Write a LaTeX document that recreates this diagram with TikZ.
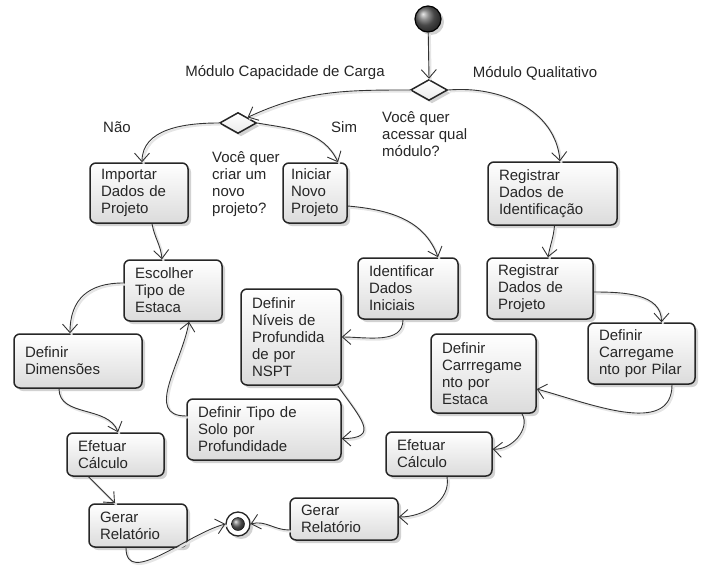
\documentclass[tikz,border=0pt]{standalone}
\usepackage{fontspec}
\setmainfont{Liberation Sans}
\usetikzlibrary{arrows.meta,shapes.geometric,shadows}
\newcommand{\flw}[3]{\path (#1) edge[#2] (#3); }

\begin{document}
\begin{tikzpicture}[x=1pt,y=1pt,->,>={Straight Barb[length=8.5pt,width=15pt,line width=0.9pt]},
  every node/.style={font=\fontsize{15}{17}\selectfont,text=black!85},
  every edge/.style={draw=black!80,line width=0.9pt,
    preaction={draw=black!10,line width=2.2pt,-,transform canvas={shift={(1.5pt,-1.5pt)}}}},
  act/.style={draw=black!85,line width=1.5pt,rounded corners=6pt,top color=white,bottom color=black!14,
    drop shadow={shadow xshift=3pt,shadow yshift=-3pt,fill=black!35,opacity=.5},
    align=left,text width=#1,inner xsep=11pt,inner ysep=4pt},
  dec/.style={diamond,draw=black!85,line width=1.5pt,top color=white,bottom color=black!8,inner sep=0pt,
    minimum width=37pt,minimum height=21pt,
    drop shadow={shadow xshift=3pt,shadow yshift=-3pt,fill=black!35,opacity=.5}},
  lbl/.style={inner sep=0pt,align=left}]
  \useasboundingbox (0,0) rectangle (709,-570);
  % start and decisions
  \node[circle,draw=black,line width=1.2pt,ball color=black!60,minimum size=26pt,inner sep=0pt,
    drop shadow={shadow xshift=3pt,shadow yshift=-3pt,fill=black!35,opacity=.5}] (start) at (428,-19) {};
  \node[dec] (modulo) at (429,-90) {};
  \node[dec] (novo) at (238,-123) {};
  \node[lbl] (lcap) at (285,-73) {Módulo Capacidade de Carga};
  \node[lbl] (lqual) at (535,-73) {Módulo Qualitativo};
  \node[lbl,anchor=west] (qmod) at (382,-134) {Você quer\\acessar qual\\módulo?};
  \node[lbl,anchor=west] (qnovo) at (212,-184) {Você quer\\criar um\\novo\\projeto?};
  \node[lbl,anchor=west] (lnao) at (103,-127) {Não};
  \node[lbl,anchor=west] (lsim) at (331,-127) {Sim};
  % activities
  \node[act=76pt,minimum height=60pt] (imp) at (139,-193) {Importar\\Dados de\\Projeto};
  \node[act=48pt,inner xsep=8pt,minimum height=60pt] (ini) at (315,-193) {Iniciar\\Novo\\Projeto};
  \node[act=107pt,minimum height=63pt] (regid) at (552.5,-193.5) {Registrar\\Dados de\\Identificação};
  \node[act=76pt,minimum height=61pt] (esc) at (173,-290.5) {Escolher\\Tipo de\\Estaca};
  \node[act=78pt,minimum height=61pt] (ident) at (408,-288.5) {Identificar\\Dados\\Iniciais};
  \node[act=84pt,minimum height=61pt] (regproj) at (540,-288.5) {Registrar\\Dados de\\Projeto};
  \node[act=78pt,minimum height=96pt] (niv) at (291,-337) {Definir\\Níveis de\\Profundida\\de por\\NSPT};
  \node[act=106pt,minimum height=54pt] (dim) at (78,-361) {Definir\\Dimensões};
  \node[act=85pt,minimum height=61pt] (pilar) at (641.5,-353.5) {Definir\\Carregame\\nto por Pilar};
  \node[act=83pt,minimum height=79pt] (estaca) at (483.5,-373.5) {Definir\\Carrregame\\nto por\\Estaca};
  \node[act=132pt,minimum height=61pt] (solo) at (264,-429.5) {Definir Tipo de\\Solo por\\Profundidade};
  \node[act=75pt,minimum height=43pt] (efl) at (115.5,-454.5) {Efetuar\\Cálculo};
  \node[act=84pt,minimum height=44pt] (efr) at (439,-454) {Efetuar\\Cálculo};
  \node[act=76pt,minimum height=43pt] (gerl) at (138,-525.5) {Gerar\\Relatório};
  \node[act=86pt,minimum height=42pt] (gerr) at (344,-519) {Gerar\\Relatório};
  % end
  \node[circle,draw=black!85,line width=1.3pt,fill=white,minimum size=24pt,inner sep=0pt,
    drop shadow={shadow xshift=3pt,shadow yshift=-3pt,fill=black!35,opacity=.5}] (fim) at (238,-524) {};
  \node[circle,draw=black,ball color=black!60,minimum size=13pt,inner sep=0pt] (fimc) at (fim) {};
  % flows
  \flw{start}{}{modulo.north}
  \flw{modulo.west}{out=180,in=25}{novo.north east}
  \flw{modulo.east}{out=5,in=95}{[xshift=7.5pt]regid.north}
  \flw{novo.west}{out=180,in=90}{[xshift=3pt]imp.north}
  \flw{novo.east}{out=-10,in=115}{[xshift=23pt]ini.north}
  \flw{[xshift=13pt]imp.south}{out=-80,in=95}{[xshift=-11pt]esc.north}
  \flw{[yshift=-13pt]ini.east}{out=-5,in=110}{[xshift=30pt]ident.north}
  \flw{[xshift=2pt]regid.south}{out=-95,in=80}{[xshift=8pt]regproj.north}
  \flw{[yshift=7.5pt]esc.west}{out=180,in=90,looseness=1.2}{[xshift=-8pt]dim.north}
  \flw{[xshift=-5pt]ident.south}{out=-90,in=0}{niv.east}
  \flw{[yshift=-3.5pt]regproj.east}{out=0,in=90}{[xshift=20pt]pilar.north}
  \flw{[xshift=-4pt]niv.south east}{out=-55,in=0,looseness=1.9}{[yshift=-9pt]solo.east}
  \flw{[yshift=13.5pt]solo.west}{out=180,in=-100,looseness=1.15}{[xshift=16pt]esc.south}
  \flw{[xshift=-19pt]dim.south}{out=-90,in=110}{[xshift=2.5pt]efl.north}
  \flw{[xshift=30.5pt]pilar.south}{out=-90,in=-15}{[yshift=-15.5pt]estaca.east}
  \flw{[xshift=-27pt]efl.south}{}{[xshift=-23pt]gerl.north}
  \flw{[xshift=38.5pt]estaca.south}{out=-60,in=-5}{[yshift=5pt]efr.east}
  \flw{[xshift=8pt]efr.south}{out=-80,in=0}{[yshift=2pt]gerr.east}
  \flw{[xshift=-12pt]gerl.south}{out=-90,in=195}{fim.west}
  \flw{[yshift=-11pt]gerr.west}{out=180,in=15}{fim.east}
\end{tikzpicture}
\end{document}
